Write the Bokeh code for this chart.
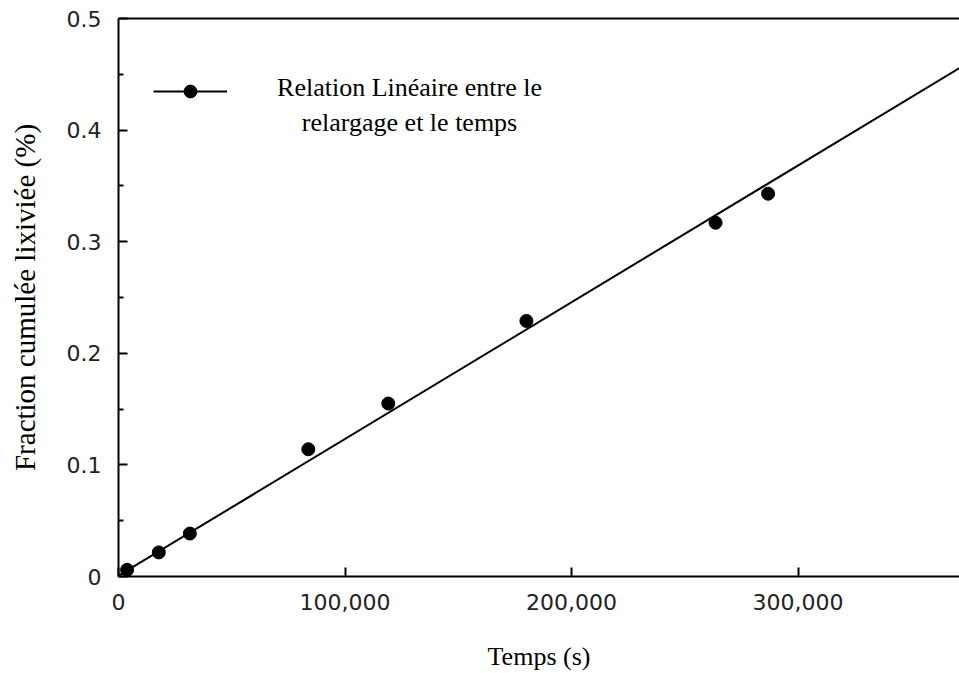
from bokeh.plotting import figure
from bokeh.models import (Range1d, FixedTicker, LinearAxis, Legend, LegendItem, Label)
from bokeh.embed import file_html
from bokeh.resources import INLINE

# ---- data ----
temps_s = [3800, 17800, 31500, 83800, 119100, 180100, 263600, 286800]
fraction_pct = [0.006, 0.0216, 0.0385, 0.114, 0.155, 0.229, 0.317, 0.343]

fit_slope = 1.2253e-6      # fraction per second
fit_intercept = 0.0007

x_ticks = [0, 100000, 200000, 300000]
x_tick_labels = ["0", "100,000", "200,000", "300,000"]
y_ticks = [0, 0.1, 0.2, 0.3, 0.4, 0.5]
y_tick_labels = ["0", "0.1", "0.2", "0.3", "0.4", "0.5"]
y_minor_ticks = [0.05, 0.15, 0.25, 0.35, 0.45]

x_title = "Temps (s)"
y_title = "Fraction cumulée lixiviée (%)"
legend_text = "Relation Linéaire entre le\nrelargage et le temps"

X_END = 371300
Y_END = 0.5

SERIF = "Liberation Serif"
TICK_FONT = "DejaVu Sans"

p = figure(width=959, height=673,
           x_range=Range1d(0, X_END), y_range=Range1d(0, Y_END),
           output_backend="svg", toolbar_location=None,
           min_border_left=118, min_border_right=0,
           min_border_top=18, min_border_bottom=93,
           x_axis_label=x_title, y_axis_label=y_title)

p.outline_line_color = None
p.grid.visible = False
p.background_fill_color = "white"
p.border_fill_color = "white"

# fitted line
fit_x = [0, X_END]
fit_y = [fit_intercept + fit_slope * xv for xv in fit_x]
line_r = p.line(fit_x, fit_y, line_width=2, line_color="black")
pts_r = p.scatter(temps_s, fraction_pct, size=13, fill_color="black", line_color="black")

# x axis
xa = p.xaxis[0]
xa.ticker = FixedTicker(ticks=x_ticks)
xa.major_label_overrides = {t: l for t, l in zip(x_ticks, x_tick_labels)}
xa.axis_line_width = 2
xa.axis_line_color = "black"
xa.major_tick_in = 9
xa.major_tick_out = 0
xa.major_tick_line_width = 2
xa.minor_tick_line_color = None
xa.major_label_standoff = 17
xa.major_label_text_font = TICK_FONT
xa.major_label_text_font_size = "22px"
xa.major_label_text_color = "#222222"
xa.axis_label_text_font = SERIF
xa.axis_label_text_font_size = "26px"
xa.axis_label_text_font_style = "normal"
xa.axis_label_text_color = "black"
xa.axis_label_standoff = 29

# y axis
ya = p.yaxis[0]
ya.ticker = FixedTicker(ticks=y_ticks, minor_ticks=y_minor_ticks)
ya.major_label_overrides = {t: l for t, l in zip(y_ticks, y_tick_labels)}
ya.axis_line_width = 2
ya.axis_line_color = "black"
ya.major_tick_in = 9
ya.major_tick_out = 0
ya.major_tick_line_width = 2
ya.minor_tick_in = 5
ya.minor_tick_out = 0
ya.minor_tick_line_width = 2
ya.major_label_standoff = 17
ya.major_label_text_font = TICK_FONT
ya.major_label_text_font_size = "22px"
ya.major_label_text_color = "#222222"
ya.axis_label_text_font = SERIF
ya.axis_label_text_font_size = "29px"
ya.axis_label_text_font_style = "normal"
ya.axis_label_text_color = "black"
ya.axis_label_standoff = 23

# top border line
top = LinearAxis(ticker=FixedTicker(ticks=[]), axis_line_width=2, axis_line_color="black",
                 major_tick_in=0, major_tick_out=0, minor_tick_in=0, minor_tick_out=0,
                 major_label_text_font_size="0px")
p.add_layout(top, "above")

# legend sample (line + dot)
legend = Legend(items=[LegendItem(label=" ", renderers=[line_r, pts_r])],
                location=(35, 469), glyph_width=74, glyph_height=32, label_height=32,
                label_text_font_size="10px", padding=0, margin=0, spacing=0,
                border_line_color=None, background_fill_alpha=0)
p.add_layout(legend, "center")

LABEL_X = 128500
LABEL_Y = 0.4225
p.add_layout(Label(x=LABEL_X, y=LABEL_Y, text=legend_text, text_align="center",
                   text_baseline="middle", text_font=SERIF, text_font_size="26px",
                   text_line_height=1.2, text_color="black"))

open("out.html", "w").write(file_html(p, INLINE))
